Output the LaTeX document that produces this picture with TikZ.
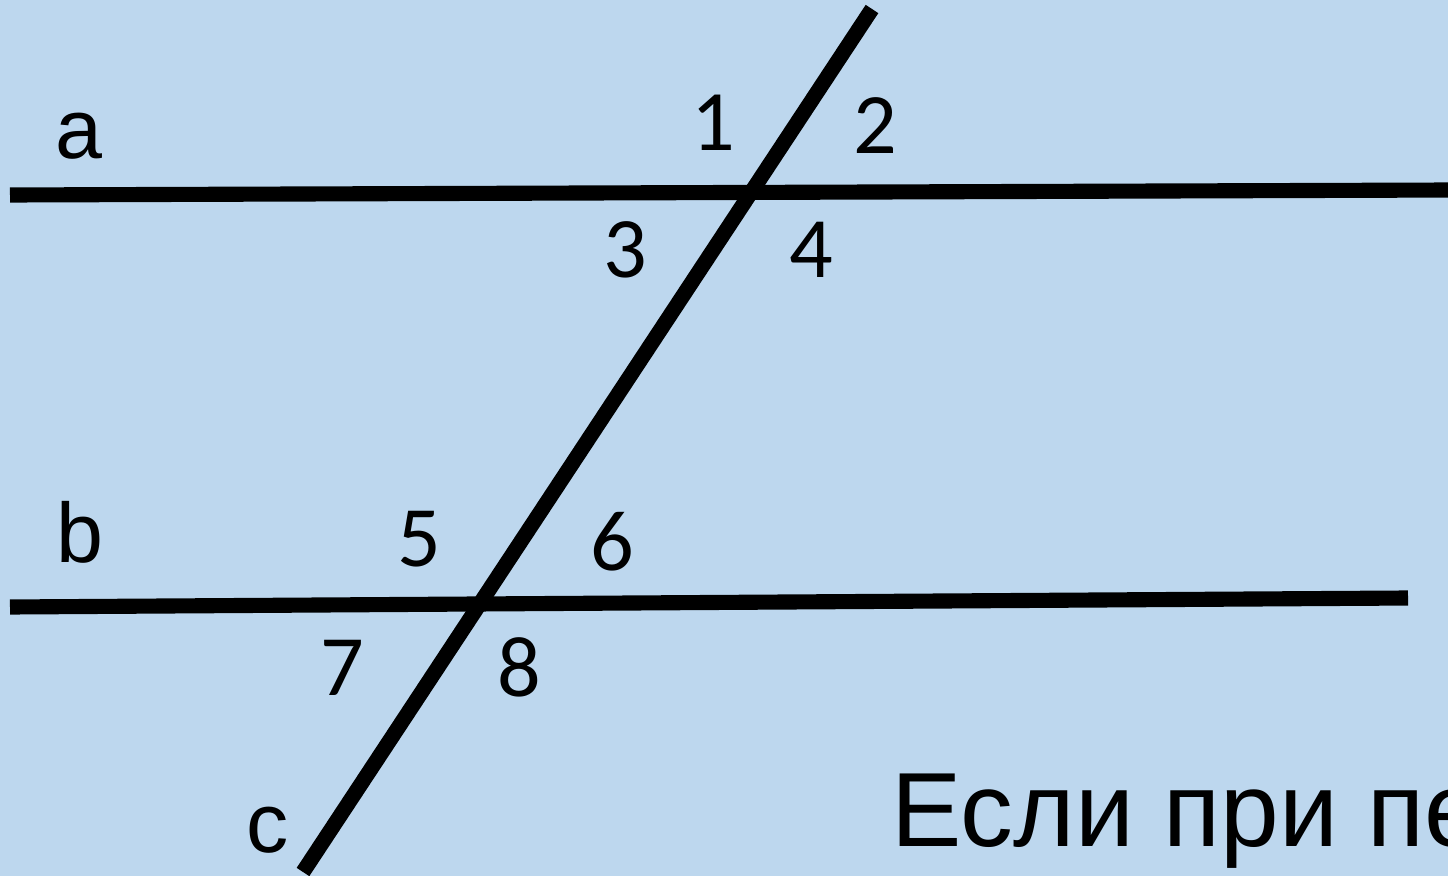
\documentclass[tikz,border=0pt]{standalone}
\usepackage{fontspec}
\usepackage{xcolor}
\usepackage{tikz}
\usetikzlibrary{positioning,calc}
\setmainfont{Carlito}
\newfontfamily\arialfont{Liberation Sans}
\definecolor{slidebg}{HTML}{BDD7EE}
\tikzset{
  geomline/.style={draw=black, line width=4.3pt, line cap=butt},
  linename/.style={inner sep=0pt, font=\arialfont\fontsize{24}{28}\selectfont},
  anglenum/.style={inner sep=0pt, font=\fontsize{24.5}{28}\selectfont},
  slidetext/.style={inner sep=0pt, anchor=base west, font=\arialfont\fontsize{30}{36}\selectfont}
}
\begin{document}
\begin{tikzpicture}[x=0.01cm, y=-0.01cm]
  \useasboundingbox (0,0) rectangle (1448,876);
  \clip (0,0) rectangle (1448,876);
  \fill[slidebg] (0,0) rectangle (1448,876);

  % lines a, b and the transversal c
  \coordinate (aL) at (10,195);
  \coordinate (aR) at (1452,190);
  \coordinate (bL) at (10,607);
  \coordinate (bR) at (1408,598);
  \coordinate (cT) at (872,9);
  \coordinate (cB) at (303,872);
  \draw[geomline] (aL) -- (aR);
  \draw[geomline] (bL) -- (bR);
  \draw[geomline] (cT) -- (cB);

  \node[linename] (nameA) at (79,136) {a};
  \node[linename] (nameB) at (80,532) {b};
  \node[linename] (nameC) at (268,830) {c};

  % angles at line a
  \node[anglenum] (ang1) at (713,123) {1};
  \node[anglenum] (ang2) at (875,126) {2};
  \node[anglenum] (ang3) at (625,250) {3};
  \node[anglenum] (ang4) at (811,250) {4};
  % angles at line b
  \node[anglenum] (ang5) at (419,539) {5};
  \node[anglenum] (ang6) at (612,542) {6};
  \node[anglenum] (ang7) at (342,668) {7};
  \node[anglenum] (ang8) at (519,667) {8};

  \node[slidetext] (rule) at (891,846) {Если при пе};
\end{tikzpicture}
\end{document}
